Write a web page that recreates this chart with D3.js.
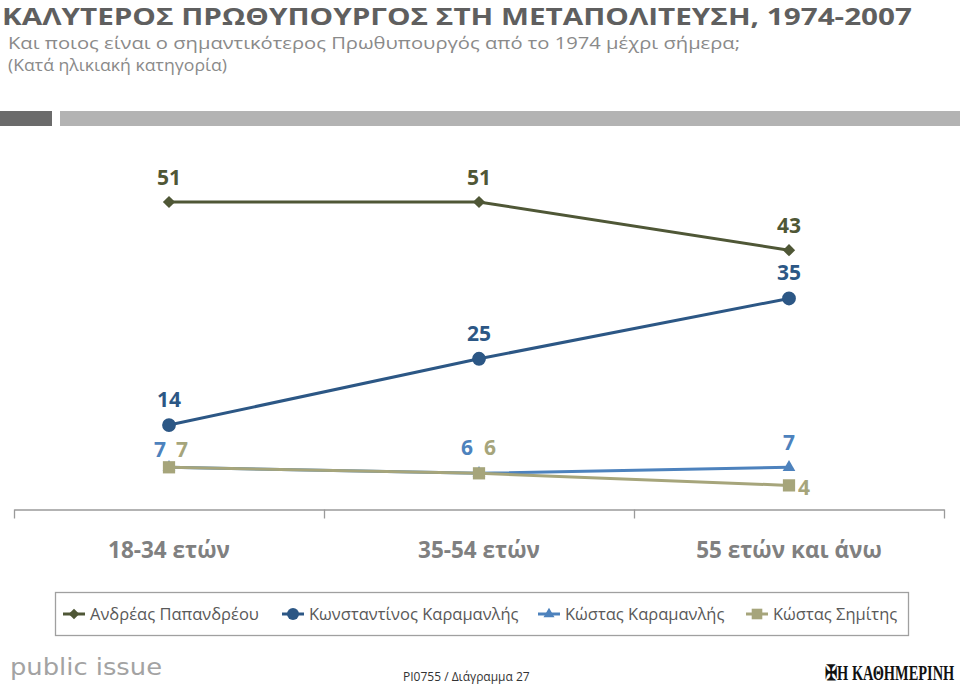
<!DOCTYPE html>
<head>
<meta charset="utf-8">
<script src="https://d3js.org/d3.v7.min.js"></script>
<style>
  body { margin: 0; background: #fff; }
  svg { display: block; font-family: "Open Sans", sans-serif; }
</style>
</head>
<body>
  <svg id="chart" width="960" height="685"></svg>
  <script>
    // categories and values
    const categories = ["18-34 ετών", "35-54 ετών", "55 ετών και άνω"];
    const seriesNames = ["Ανδρέας Παπανδρέου", "Κωνσταντίνος Καραμανλής", "Κώστας Καραμανλής", "Κώστας Σημίτης"];
    const papandreou = [51, 51, 43];
    const kKaramanlis = [14, 25, 35];
    const kostasKaramanlis = [7, 6, 7];
    const simitis = [7, 6, 4];

    const svg = d3.select("#chart");

    // look of each series: colour, marker, label offsets per point
    const styles = [
      { values: papandreou, color: "#4f5736", symbol: d3.symbolSquare, size: 75, rotate: 45,
        labels: [[0, -17], [0, -17], [0, -17]] },
      { values: kKaramanlis, color: "#2c5785", symbol: d3.symbolCircle, size: 150, rotate: 0,
        labels: [[0, -18], [0, -18], [0, -18]] },
      { values: kostasKaramanlis, color: "#4d82bd", symbol: d3.symbolTriangle, size: 70, rotate: 0,
        labels: [[-9, -10], [-12, -18], [0, -17]] },
      { values: simitis, color: "#a6a57b", symbol: d3.symbolSquare, size: 150, rotate: 0,
        labels: [[13, -10], [11, -18], [15, 10]] }
    ];

    // header
    svg.append("text").attr("x", 2).attr("y", 25)
      .attr("textLength", 910).attr("lengthAdjust", "spacingAndGlyphs")
      .style("font-size", "24px").style("font-weight", "bold").attr("fill", "#5f5f5f")
      .text("ΚΑΛΥΤΕΡΟΣ ΠΡΩΘΥΠΟΥΡΓΟΣ ΣΤΗ ΜΕΤΑΠΟΛΙΤΕΥΣΗ, 1974-2007");
    svg.append("text").attr("x", 8).attr("y", 49)
      .attr("textLength", 732).attr("lengthAdjust", "spacingAndGlyphs")
      .style("font-size", "17px").attr("fill", "#8a8a8a")
      .text("Και ποιος είναι ο σημαντικότερος Πρωθυπουργός από το 1974 μέχρι σήμερα;");
    svg.append("text").attr("x", 8).attr("y", 71)
      .attr("textLength", 219).attr("lengthAdjust", "spacingAndGlyphs")
      .style("font-size", "17px").attr("fill", "#8a8a8a")
      .text("(Κατά ηλικιακή κατηγορία)");
    svg.append("rect").attr("x", 0).attr("y", 111).attr("width", 52).attr("height", 15).attr("fill", "#6b6b6b");
    svg.append("rect").attr("x", 60).attr("y", 111).attr("width", 900).attr("height", 15).attr("fill", "#b3b3b3");

    // scales
    const x = d3.scaleBand().domain(categories).range([14, 944]);
    const cx = c => x(c) + x.bandwidth() / 2;
    const y = d3.scaleLinear().domain([0, 51]).range([509.5, 202]);

    // category axis with ticks at band edges
    const edges = d3.scaleLinear().domain([0, categories.length]).range([14, 944]);
    const axis = svg.append("g").attr("transform", "translate(0,509.5)")
      .call(d3.axisBottom(edges).tickValues(d3.range(categories.length + 1))
        .tickFormat("").tickSize(9).tickSizeOuter(0));
    axis.selectAll("path, line").attr("stroke", "#9a9a9a").attr("stroke-width", 1.3);

    svg.append("g").selectAll("text").data(categories).join("text")
      .attr("x", d => cx(d)).attr("y", 558).attr("text-anchor", "middle")
      .style("font-size", "22.5px").style("font-weight", "bold").attr("fill", "#808080")
      .text(d => d);

    const line = d3.line().x((v, i) => cx(categories[i])).y(v => y(v));

    styles.forEach(s => {
      const g = svg.append("g");
      g.append("path").datum(s.values).attr("d", line)
        .attr("fill", "none").attr("stroke", s.color).attr("stroke-width", 3);
      g.selectAll("path.m").data(s.values).join("path").attr("class", "m")
        .attr("transform", (v, i) => `translate(${cx(categories[i])},${y(v)}) rotate(${s.rotate})`)
        .attr("d", d3.symbol().type(s.symbol).size(s.size))
        .attr("fill", s.color);
    });
    styles.forEach(s => {
      svg.append("g").selectAll("text").data(s.values).join("text")
        .attr("x", (v, i) => cx(categories[i]) + s.labels[i][0])
        .attr("y", (v, i) => y(v) + s.labels[i][1])
        .attr("text-anchor", "middle")
        .style("font-size", "21px").style("font-weight", "bold").attr("fill", s.color)
        .text(v => v);
    });

    // legend
    svg.append("rect").attr("x", 55.5).attr("y", 592.5).attr("width", 853).attr("height", 43)
      .attr("fill", "#fff").attr("stroke", "#a0a0a0").attr("stroke-width", 1.3);
    const legendX = [63, 282, 538, 746];
    const legend = svg.append("g").selectAll("g").data(styles).join("g")
      .attr("transform", (d, i) => `translate(${legendX[i]},614)`);
    legend.append("line").attr("x1", 0).attr("x2", 22)
      .attr("stroke", d => d.color).attr("stroke-width", 3);
    legend.append("path").attr("transform", d => `translate(11,0) rotate(${d.rotate})`)
      .attr("d", d => d3.symbol().type(d.symbol).size(d.size * 0.75)())
      .attr("fill", d => d.color);
    legend.append("text").attr("x", 27).attr("y", 6)
      .style("font-size", "16.5px").attr("fill", "#595959")
      .text((d, i) => seriesNames[i]);

    // footer
    svg.append("text").attr("x", 10).attr("y", 675)
      .style("font-family", "'DejaVu Sans', sans-serif").style("font-size", "23px")
      .attr("fill", "#a3a3a3").attr("textLength", 152).attr("lengthAdjust", "spacingAndGlyphs")
      .text("public issue");
    svg.append("text").attr("x", 403).attr("y", 681)
      .style("font-size", "12px").attr("fill", "#333")
      .text("PI0755 / Διάγραμμα 27");
    svg.append("text").attr("transform", "translate(825,680) scale(0.8,1.15)")
      .style("font-family", "'Liberation Serif', serif").style("font-size", "18px").style("font-weight", "bold")
      .attr("fill", "#111")
      .text("✠Η ΚΑΘΗΜΕΡΙΝΗ");
  </script>
</body>
